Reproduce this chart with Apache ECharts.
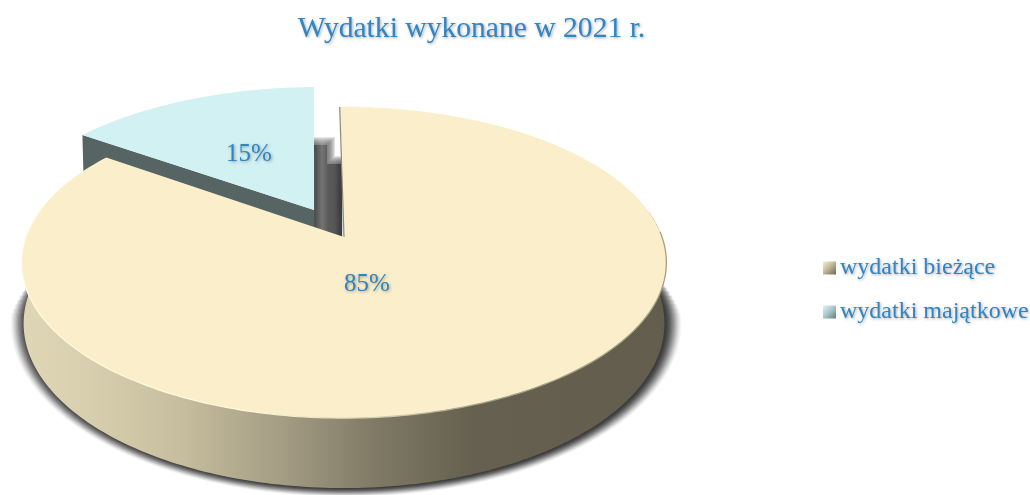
<!DOCTYPE html>
<html><head><meta charset="utf-8">
<script src="https://cdn.jsdelivr.net/npm/echarts@6/dist/echarts.min.js"></script>
<style>html,body{margin:0;background:#fff}#c{width:1030px;height:495px}</style></head>
<body><div id="c"></div>
<script>
const categories = ['wydatki bieżące', 'wydatki majątkowe'];
const values = [85, 15];
const titleText = 'Wydatki wykonane w 2021 r.';

const TEXT = '#2E86C6', FONT = '"Liberation Serif","Times New Roman",serif';
const shadowText = {textShadowColor:'rgba(0,0,0,.35)',textShadowBlur:3,textShadowOffsetX:1,textShadowOffsetY:1};

// perspective model of a unit disk seen from above
const CX=344, CY=237, A=318, B=151.4, K=0.164, H=60, M=0.006, ROT=-0.9, EXPLODE=0.207;
function proj(x,y,z){const s=1+K*y+M*z;return [CX+A*x/s, CY+(-B*y+H*z)/s];}
function rim(deg,off,z,wide){const t=deg*Math.PI/180;return proj(Math.sin(t)*(wide||1)+off[0],Math.cos(t)+off[1],z);}
function arc(d0,d1,off,z,wide){const p=[],n=Math.max(8,Math.ceil(Math.abs(d1-d0)));for(let i=0;i<=n;i++)p.push(rim(d0+(d1-d0)*i/n,off,z,wide));return p;}
const LG=(x,y,x2,y2,stops,g)=>new echarts.graphic.LinearGradient(x,y,x2,y2,stops.map(s=>({offset:s[0],color:s[1]})),g);

const total=values.reduce((a,b)=>a+b,0);
const mainSweep=values[0]/total*360;
const mainStart=ROT, mainEnd=ROT+mainSweep;
const minorStart=mainEnd, minorEnd=ROT+360;
const pctStyle={fill:TEXT,font:'25px '+FONT,align:'center',verticalAlign:'middle',textShadowColor:'rgba(0,0,0,.35)',textShadowBlur:3,textShadowOffsetX:1,textShadowOffsetY:1,shadowColor:'rgba(0,0,0,.35)',shadowBlur:3,shadowOffsetX:1,shadowOffsetY:1};

function softShadow(off){
  const out=[], n=13, reach=15;
  for(let i=0;i<n;i++){
    const d=reach*(1-i/(n-1));
    const pts=arc(78+d*1.2,282-d*1.2,off,1).map(p=>[CX+2+(p[0]-CX)*(1+d/322),322+(p[1]-322)*(1+(d*0.55+0.5)/166)]);
    out.push({type:'polygon',shape:{points:pts},style:{fill:'rgba(35,35,35,'+(0.04+0.018*i)+')'},silent:true});
  }
  return out;
}
function renderMain(params,api){
  const off=[0,0], val=api.value(0);
  const top=arc(mainStart,mainEnd,off,0), apex=proj(0,0,0);
  const wallRange=arc(80,283,off,0), wallLow=arc(80,283,off,1).reverse();
  const wallFill=LG(22,0,667,0,[[0,'#DFD6B5'],[0.1,'#D8CFAE'],[0.25,'#C6BD9E'],[0.4,'#A59D84'],[0.55,'#7F7965'],[0.7,'#65604F'],[1,'#625D4C']],true);
  const rimFill=LG(22,0,667,0,[[0,'#FFFCE0'],[0.35,'#FFFBDD'],[0.55,'#D8CFB0'],[0.7,'#A8A18A'],[1,'#A8A18A']],true);
  return {type:'group',children:softShadow(off).concat([
    {type:'polygon',shape:{points:wallRange.concat(wallLow)},style:{fill:wallFill}},
    {type:'polygon',shape:{points:top.concat([apex])},style:{fill:'#FAEFCA'}},
    {type:'polyline',shape:{points:arc(88,283,off,0)},style:{stroke:rimFill,lineWidth:1.3,fill:null}},
    {type:'polyline',shape:{points:[rim(mainStart,off,0),apex]},style:{stroke:'#8f8a74',lineWidth:1.2,fill:null}},
    {type:'text',x:367,y:284,style:Object.assign({text:Math.round(val/total*100)+'%'},pctStyle)}
  ])};
}
function renderMinor(params,api){
  const mid=(minorStart+minorEnd)/2*Math.PI/180;
  const off=[Math.sin(mid)*EXPLODE,Math.cos(mid)*EXPLODE], val=api.value(0), wide=1.012;
  const top=arc(minorStart,minorEnd,off,0,wide), apex=proj(off[0],off[1],0);
  const wall=[rim(minorStart,off,0,wide),apex,proj(off[0],off[1],1),rim(minorStart,off,1,wide)];
  const gx0=apex[0], gap=26;
  const stripFill=LG(gx0,0,gx0+gap,0,[[0,'#474747'],[0.3,'#747474'],[0.55,'#5a5a5a'],[0.8,'#555'],[1,'#3e3e3e']],true);
  const y1=apex[1]+30, strip=[];
  for(let i=0;i<9;i++){
    const d=(8-i)*1, t=apex[1]-68-d+3, t2=apex[1]-48-d+2, w=13+d;
    strip.push({type:'polygon',shape:{points:[[gx0,t],[gx0+w,t],[gx0+w,t2],[gx0+gap+2,t2],[gx0+gap+2,y1],[gx0,y1]]},style:{fill:stripFill,opacity:i===8?1:0.16}});
  }
  return {type:'group',children:strip.concat([
    {type:'polygon',shape:{points:wall},style:{fill:'#566463'}},
    {type:'polygon',shape:{points:top.concat([apex])},style:{fill:'#D2F1F3'}},
    {type:'text',x:249,y:154,style:Object.assign({text:Math.round(val/total*100)+'%'},pctStyle)}
  ])};
}

const chart=echarts.init(document.getElementById('c'),null,{renderer:'canvas'});
chart.setOption({
  animation:false,
  title:{text:titleText,left:466.5,top:9,textAlign:'center',textStyle:Object.assign({color:TEXT,fontFamily:FONT,fontSize:29.6,fontWeight:'normal'},shadowText)},
  legend:{orient:'vertical',left:818,top:251,icon:'rect',itemWidth:13,itemHeight:13,itemGap:20,data:categories,selectedMode:false,
    textStyle:Object.assign({color:TEXT,fontFamily:FONT,fontSize:24,padding:[0,0,0,-1]},shadowText)},
  series:[
    {type:'custom',name:categories[1],coordinateSystem:'none',z:2,renderItem:renderMinor,data:[[values[1]]],
      itemStyle:{color:LG(0,0,1,1,[[0,'#DDF5F6'],[0.5,'#A9C6C6'],[1,'#5F7B7B']],false)}},
    {type:'custom',name:categories[0],coordinateSystem:'none',z:3,renderItem:renderMain,data:[[values[0]]],
      itemStyle:{color:LG(0,0,1,1,[[0,'#FAEFCA'],[0.5,'#BDB496'],[1,'#6B6655']],false)}}
  ]
});
</script></body></html>
